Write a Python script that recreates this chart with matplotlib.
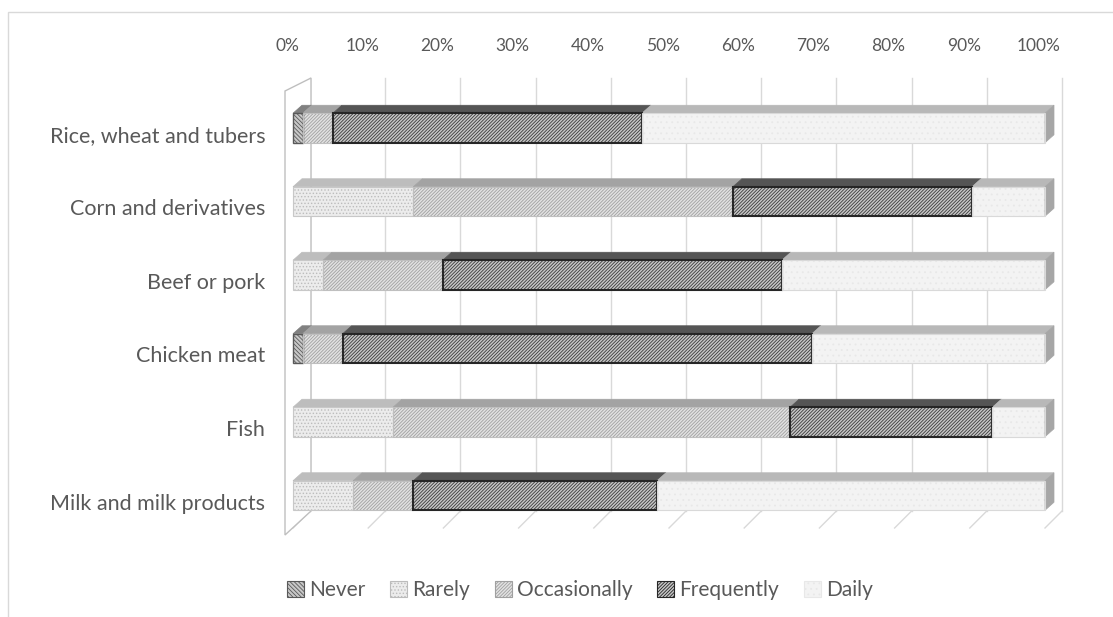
import matplotlib
matplotlib.use("Agg")
import matplotlib.pyplot as plt
import matplotlib.patches as mpatches
from matplotlib.transforms import ScaledTranslation
import numpy as np

plt.rcParams['font.family'] = ['Lato', 'DejaVu Sans']
plt.rcParams['hatch.linewidth'] = 0.6

categories = ["Rice, wheat and tubers", "Corn and derivatives", "Beef or pork",
              "Chicken meat", "Fish", "Milk and milk products"]
series_names = ["Never", "Rarely", "Occasionally", "Frequently", "Daily"]
never        = [1.3, 0.0, 0.0, 1.3, 0.0, 0.0]
rarely       = [0.0, 16.0, 4.0, 0.0, 13.3, 8.0]
occasionally = [4.0, 42.5, 15.9, 5.3, 52.8, 8.0]
frequently   = [41.1, 31.8, 45.1, 62.4, 26.9, 32.4]
daily        = [53.6, 9.7, 35.0, 31.0, 7.0, 51.6]
tick_values = [0, 10, 20, 30, 40, 50, 60, 70, 80, 90, 100]
tick_labels = ["0%", "10%", "20%", "30%", "40%", "50%", "60%", "70%", "80%", "90%", "100%"]

series = [never, rarely, occasionally, frequently, daily]
# face, hatch, hatch colour, outline colour, outline width, top-face colour
styles = [
    ("#c8c8c8", "\\\\\\\\\\\\\\\\", "#5a5a5a", "#595959", 1.0, "#808080"),
    ("#ececec", ".....", "#bcbcbc", "#c8c8c8", 0.8, "#bdbdbd"),
    ("#e2e2e2", "//////////", "#a0a0a0", "#bfbfbf", 0.8, "#a3a3a3"),
    ("#c6c6c6", "//////////", "#3a3a3a", "#262626", 1.5, "#555555"),
    ("#f3f3f3", "...", "#e8e8e8", "#d9d9d9", 0.8, "#b8b8b8"),
]

W, H = 1113, 617
fig = plt.figure(figsize=(W / 100, H / 100), dpi=100)

# pixel layout of the plotting area
x0_px, x1_px = 293, 1045
top_px, bot_px = 55, 545
row0_px, step_px = 128, 73.5
ax = fig.add_axes([x0_px / W, (H - bot_px) / H, (x1_px - x0_px) / W, (bot_px - top_px) / H])
ax.set_xlim(0, 100)
ax.set_ylim((bot_px - row0_px) / step_px, (top_px - row0_px) / step_px)
pxx = 100 / (x1_px - x0_px)   # percent per pixel
pxy = 1 / step_px             # category units per pixel

def X(px):
    return (px - x0_px) * pxx

def Y(py):
    return (py - row0_px) * pxy

# outer chart frame
fig.patches.append(mpatches.Rectangle((8 / W, -0.1), 1.2, (H - 12) / H + 0.1,
                                      transform=fig.transFigure, fill=False,
                                      edgecolor="#d9d9d9", lw=1.0))

grid_c = "#d9d9d9"
back_dx, back_dy = 17 * pxx, -17 * pxy
back_top, back_bot = Y(78), Y(511)
for t in tick_values:
    ax.plot([t + back_dx, t + back_dx], [back_top, back_bot], color=grid_c, lw=1, zorder=1,
            clip_on=False)
    ax.plot([t + back_dx, t], [back_bot, back_bot - back_dy], color=grid_c, lw=1, zorder=1,
            clip_on=False)

# left side wall
wall = mpatches.Polygon([(X(285), Y(91)), (X(311), Y(78)), (X(311), Y(511)), (X(285), Y(535))],
                        closed=True, facecolor="white", edgecolor="#bfbfbf", lw=1.0, zorder=1.5,
                        clip_on=False)
ax.add_patch(wall)

bar_h = 29.5 * pxy
ddx, ddy = 9 * pxx, -8 * pxy
for i in range(len(categories)):
    top = i - bar_h / 2
    bot = i + bar_h / 2
    left = 0.0
    for s, vals in enumerate(series):
        v = vals[i]
        if v <= 0:
            continue
        face, hatch, hcol, ecol, elw, topc = styles[s]
        ax.add_patch(mpatches.Rectangle((left, top), v, bar_h, facecolor=face,
                                        hatch=hatch, edgecolor=hcol, lw=0, zorder=3,
                                        clip_on=False))
        ax.add_patch(mpatches.Rectangle((left, top), v, bar_h, fill=False,
                                        edgecolor=ecol, lw=elw, zorder=4, clip_on=False))
        ax.add_patch(mpatches.Polygon([(left, top), (left + v, top), (left + v + ddx, top + ddy),
                                       (left + ddx, top + ddy)], closed=True,
                                      facecolor=topc, edgecolor=topc, lw=0.5, zorder=3,
                                      clip_on=False))
        left += v
    # right end cap
    ax.add_patch(mpatches.Polygon([(left, top), (left + ddx, top + ddy), (left + ddx, bot + ddy),
                                   (left, bot)], closed=True, facecolor="#a6a6a6",
                                  edgecolor="#a6a6a6", lw=0.5, zorder=3, clip_on=False))

for sp in ax.spines.values():
    sp.set_visible(False)

txt_c = "#595959"
ax.xaxis.tick_top()
ax.set_xticks(tick_values)
ax.set_xticklabels(tick_labels, fontsize=12.5, color=txt_c)
ax.tick_params(axis="x", length=0, pad=1)
for lab in ax.get_xticklabels():
    lab.set_transform(lab.get_transform() + ScaledTranslation(-6 / 100, 0, fig.dpi_scale_trans))

ax.set_yticks(range(len(categories)))
ax.set_yticklabels(categories, fontsize=15.5, color=txt_c)
ax.tick_params(axis="y", length=0, pad=20)
for lab in ax.get_yticklabels():
    lab.set_transform(lab.get_transform() + ScaledTranslation(0, -6 / 100, fig.dpi_scale_trans))

handles = []
for s, name in enumerate(series_names):
    face, hatch, hcol, ecol, elw, topc = styles[s]
    handles.append(mpatches.Patch(facecolor=face, hatch=hatch, edgecolor=ecol if s in (0, 3) else hcol,
                                  lw=0.8, label=name))
fig.legend(handles=handles, loc="center", bbox_to_anchor=(580 / W, (H - 590) / H), ncol=5,
           frameon=False, fontsize=15, labelcolor=txt_c, handlelength=0.8, handleheight=0.8,
           handletextpad=0.25, columnspacing=1.2)

fig.savefig("out.png", dpi=100)
